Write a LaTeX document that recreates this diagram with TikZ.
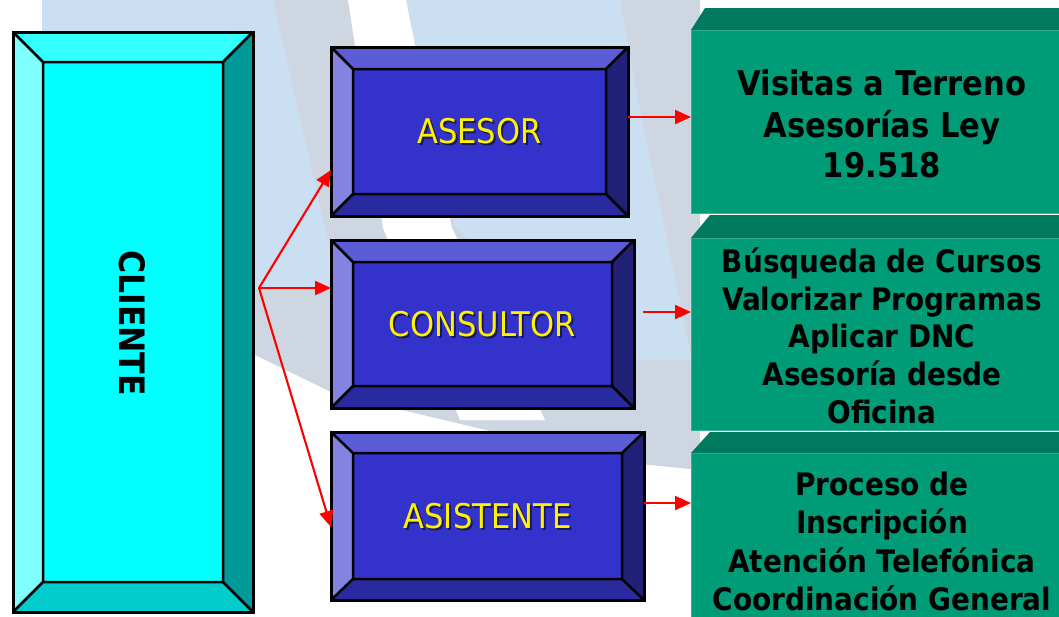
\documentclass[tikz,border=0pt]{standalone}
\usepackage{fontspec}
\setmainfont{DejaVu Sans}
\newfontfamily\tah[FakeStretch=0.9]{DejaVu Sans}
\usetikzlibrary{arrows.meta,calc}
\definecolor{wmblue}{HTML}{CBDFF3}
\definecolor{wmgrey}{HTML}{CED6E2}
\definecolor{cyTop}{HTML}{33FFFF}
\definecolor{cyLeft}{HTML}{80FFFF}
\definecolor{cyFace}{HTML}{00FFFF}
\definecolor{cyRight}{HTML}{009999}
\definecolor{cyBot}{HTML}{00CCCC}
\definecolor{bTop}{HTML}{5C5CD6}
\definecolor{bLeft}{HTML}{8383E0}
\definecolor{bFace}{HTML}{3333CC}
\definecolor{bRight}{HTML}{212178}
\definecolor{bBot}{HTML}{2A2AA0}
\definecolor{gFront}{HTML}{009B77}
\definecolor{gTop}{HTML}{007A5E}
\definecolor{gEdge}{HTML}{3DB08F}
\definecolor{shadowc}{HTML}{111133}
\newcommand\bevelfaces[8]{%
  \path (#1.north west) coordinate (#1o1) (#1.north east) coordinate (#1o2)
        (#1.south east) coordinate (#1o3) (#1.south west) coordinate (#1o4)
        ([shift={(#2,#3)}]#1.north west) coordinate (#1i1)
        ([shift={(-#2,#3)}]#1.north east) coordinate (#1i2)
        ([shift={(-#2,-#3)}]#1.south east) coordinate (#1i3)
        ([shift={(#2,-#3)}]#1.south west) coordinate (#1i4);
  \fill[#4] (#1o1) -- (#1o2) -- (#1i2) -- (#1i1) -- cycle;
  \fill[#5] (#1o1) -- (#1i1) -- (#1i4) -- (#1o4) -- cycle;
  \fill[#7] (#1o2) -- (#1o3) -- (#1i3) -- (#1i2) -- cycle;
  \fill[#8] (#1o4) -- (#1i4) -- (#1i3) -- (#1o3) -- cycle;
  \fill[#6] (#1i1) rectangle (#1i3);
  \draw[bevline] (#1i1) rectangle (#1i3)
     (#1o1) -- (#1i1) (#1o2) -- (#1i2) (#1o3) -- (#1i3) (#1o4) -- (#1i4);
  \draw[bevline, line width=3pt] (#1o1) rectangle (#1o3);
}
\tikzset{
  boxshape/.style={rectangle, draw=none, inner sep=0pt, outer sep=0pt},
  bevline/.style={draw=black, line width=2.5pt, line join=miter},
  conn/.style={draw=red, line width=2.1pt, -{Triangle[length=16pt,width=14pt]}},
  bluelbl/.style={inner sep=0pt, text=yellow, font=\tah\fontsize{34}{40}\selectfont},
  bluesh/.style={inner sep=0pt, text=shadowc, opacity=0.75, font=\tah\fontsize{34}{40}\selectfont},
  gtxtA/.style={inner sep=0pt, anchor=base, font=\tah\bfseries\fontsize{34}{41}\selectfont},
  gtxtB/.style={inner sep=0pt, anchor=base, font=\tah\bfseries\fontsize{31}{38}\selectfont},
  gface/.style={boxshape, fill=gFront, draw=gEdge, line width=1pt},
}
\begin{document}
\begin{tikzpicture}[x=1pt,y=-1pt]
\useasboundingbox (0,0) rectangle (1059,616);
\fill[white] (0,0) rectangle (1059,616);
% watermark
\fill[wmgrey] (272,0) -- (700,0) -- (700,470) -- (620,462) -- (335,394) -- (253,354) -- (253,0) -- cycle;
\fill[wmblue] (42,0) -- (273,0) -- (338,285) -- (253,290) -- (42,290) -- cycle;
\fill[wmblue] (406,0) -- (620,0) -- (640,110) -- (692,360) -- (625,360) -- (455,228) -- cycle;
\fill[white] (348,0) -- (406,0) -- (452,228) -- (545,420) -- (460,420) -- (383,228) -- cycle;
% cliente
\node[boxshape, minimum width=240pt, minimum height=580pt] (cliente) at (133,322) {};
\bevelfaces{cliente}{30}{30}{cyTop}{cyLeft}{cyFace}{cyRight}{cyBot}
\node[inner sep=0pt, rotate=-90, font=\tah\bfseries\fontsize{35}{40}\selectfont] (clientelbl) at (132,323) {CLIENTE};
% blue boxes
\node[boxshape, minimum width=297pt, minimum height=169pt] (asesor) at (479.5,131.5) {};
\bevelfaces{asesor}{22}{22}{bTop}{bLeft}{bFace}{bRight}{bBot}
\node[boxshape, minimum width=303pt, minimum height=168pt] (consultor) at (482.5,324) {};
\bevelfaces{consultor}{22}{22}{bTop}{bLeft}{bFace}{bRight}{bBot}
\node[boxshape, minimum width=313pt, minimum height=168pt] (asistente) at (487.5,516) {};
\bevelfaces{asistente}{22}{21}{bTop}{bLeft}{bFace}{bRight}{bBot}
\node[bluesh] (asesorsh) at ([shift={(2,2)}]asesor.center) {ASESOR};
\node[bluelbl] (asesorlbl) at (asesor.center) {ASESOR};
\node[bluesh] (consultorsh) at ([shift={(2,2)}]consultor.center) {CONSULTOR};
\node[bluelbl] (consultorlbl) at (consultor.center) {CONSULTOR};
\node[bluesh] (asistentesh) at ([shift={(2,2)}]asistente.center) {ASISTENTE};
\node[bluelbl] (asistentelbl) at (asistente.center) {ASISTENTE};
% green boxes
\node[gface, minimum width=379pt, minimum height=183pt] (g1) at (880.5,121.5) {};
\fill[gTop] (g1.north west) -- ++(14,-22) -- (1070,8) -- (g1.north east) -- cycle;
\node[gface, minimum width=379pt, minimum height=192pt] (g2) at (880.5,334) {};
\fill[gTop] (g2.north west) -- ++(19,-23) -- (1070,215) -- (g2.north east) -- cycle;
\node[gface, minimum width=379pt, minimum height=187pt] (g3) at (880.5,546.5) {};
\fill[gTop] (g3.north west) -- ++(19,-21) -- (1070,432) -- (g3.north east) -- cycle;
\node[gtxtA] (g1a) at (882,95) {Visitas a Terreno};
\node[gtxtA] (g1b) at (882,137) {Asesorías Ley};
\node[gtxtA] (g1c) at (882,177) {19.518};
\node[gtxtB] (g2a) at (882,272) {Búsqueda de Cursos};
\node[gtxtB] (g2b) at (882,310) {Valorizar Programas};
\node[gtxtB] (g2c) at (882,347) {Aplicar DNC};
\node[gtxtB] (g2d) at (882,385) {Asesoría desde};
\node[gtxtB] (g2e) at (882,423) {Oficina};
\node[gtxtB] (g3a) at (882,495) {Proceso de};
\node[gtxtB] (g3b) at (882,533) {Inscripción};
\node[gtxtB] (g3c) at (882,572) {Atención Telefónica};
\node[gtxtB] (g3d) at (882,610) {Coordinación General};
% connectors
\coordinate (br) at (259,288);
\draw[conn] (br) -- ([yshift=46pt]asesor.south west);
\draw[conn] (br) -- ([yshift=-48pt]consultor.north west);
\draw[conn] (br) -- ([yshift=-95pt]asistente.north west);
\coordinate (a1) at ([yshift=14.5pt]asesor.east);
\coordinate (a2) at ([xshift=9pt,yshift=12pt]consultor.east);
\coordinate (a3) at ([yshift=13pt]asistente.east);
\draw[conn] (a1) -- (a1 -| g1.west);
\draw[conn] (a2) -- (a2 -| g2.west);
\draw[conn] (a3) -- (a3 -| g3.west);
\end{tikzpicture}
\end{document}
